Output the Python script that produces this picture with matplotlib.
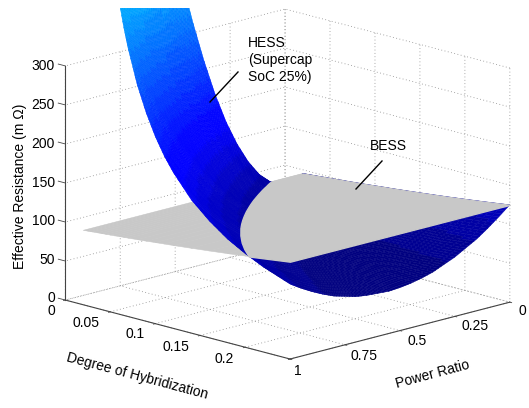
"""Effective resistance of HESS vs BESS against hybridization and power ratio."""
import matplotlib
matplotlib.use("Agg")
import matplotlib.pyplot as plt
import numpy as np
from matplotlib.colors import Normalize
from matplotlib.lines import Line2D
from matplotlib.transforms import Bbox, TransformedBbox
from mpl_toolkits.mplot3d.art3d import Poly3DCollection

W, H = 529, 408

doh = [0.02, 0.0225, 0.025, 0.0275, 0.03, 0.035, 0.04, 0.045, 0.05, 0.055, 0.06, 0.065, 0.07, 0.08, 0.09,
       0.10, 0.11, 0.12, 0.14, 0.16, 0.18, 0.20, 0.22, 0.25]
power = [0.0, 0.05, 0.1, 0.15, 0.2, 0.25, 0.3, 0.35, 0.4, 0.45, 0.5, 0.55, 0.6, 0.65, 0.7, 0.75, 0.8, 0.85, 0.9, 0.95, 1.0]

# HESS resistance, one row per doh value. Estimates: only the sheet's edges can be read off
# the picture, the inside comes from a curve fitted by hand to those readings.
hess = [
    [95.4, 89, 89, 96, 109, 129, 155, 187, 226, 272, 324, 382, 447, 519, 597, 681, 772, 869, 973, 1083, 1200],
    [95.7, 89, 88, 93, 104, 120, 143, 171, 205, 245, 291, 342, 399, 462, 531, 606, 686, 773, 865, 963, 1067],
    [95.9, 89, 87, 91, 100, 114, 133, 158, 188, 223, 264, 310, 361, 417, 479, 546, 618, 696, 779, 867, 960],
    [96.1, 89, 87, 89, 96, 109, 126, 148, 174, 206, 242, 283, 330, 381, 436, 497, 562, 633, 708, 788, 873],
    [96.4, 89, 86, 88, 94, 104, 119, 139, 163, 191, 224, 262, 303, 350, 401, 456, 516, 580, 649, 722, 800],
    [96.9, 89, 85, 85, 89, 97, 109, 125, 145, 168, 196, 227, 262, 302, 345, 392, 443, 498, 556, 619, 686],
    [97.4, 89, 85, 84, 86, 92, 102, 115, 131, 151, 174, 201, 232, 265, 303, 344, 388, 436, 487, 542, 600],
    [97.9, 90, 85, 83, 84, 88, 96, 107, 121, 138, 158, 181, 208, 237, 270, 306, 345, 388, 433, 482, 533],
    [98.4, 90, 85, 82, 82, 85, 91, 100, 112, 127, 145, 165, 189, 215, 244, 276, 311, 349, 390, 433, 480],
    [98.9, 90, 85, 81, 81, 83, 88, 95, 105, 118, 134, 152, 173, 196, 223, 252, 283, 317, 354, 394, 436],
    [99.5, 91, 85, 81, 80, 81, 85, 91, 100, 111, 125, 141, 160, 181, 205, 231, 260, 291, 325, 361, 400],
    [100.0, 91, 85, 81, 79, 79, 82, 87, 95, 105, 117, 132, 149, 168, 190, 214, 240, 269, 300, 333, 369],
    [100.5, 92, 85, 80, 78, 78, 80, 84, 91, 100, 111, 124, 140, 157, 177, 199, 223, 250, 279, 310, 343],
    [101.6, 92, 85, 80, 77, 76, 77, 80, 85, 91, 100, 111, 124, 139, 156, 175, 196, 219, 244, 271, 300],
    [102.7, 93, 86, 80, 76, 74, 74, 76, 80, 85, 92, 101, 112, 125, 140, 156, 175, 195, 217, 241, 267],
    [103.9, 94, 87, 80, 76, 73, 73, 73, 76, 80, 86, 94, 103, 114, 127, 141, 158, 176, 195, 217, 240],
    [105.1, 95, 87, 81, 76, 73, 71, 71, 73, 76, 81, 87, 95, 105, 116, 129, 144, 160, 178, 197, 218],
    [106.2, 96, 88, 81, 76, 72, 70, 69, 70, 73, 77, 82, 89, 98, 108, 119, 132, 147, 163, 181, 200],
    [108.7, 99, 90, 82, 76, 72, 69, 67, 67, 68, 70, 74, 79, 86, 94, 103, 114, 126, 140, 155, 171],
    [111.3, 101, 92, 84, 77, 72, 68, 65, 64, 64, 65, 68, 72, 77, 84, 91, 100, 111, 123, 136, 150],
    [114.0, 103, 94, 85, 78, 72, 68, 65, 62, 61, 62, 63, 66, 70, 76, 82, 90, 99, 109, 121, 133],
    [116.9, 106, 96, 87, 80, 73, 68, 64, 61, 60, 59, 60, 62, 65, 69, 75, 81, 89, 98, 109, 120],
    [119.9, 108, 98, 89, 81, 74, 69, 64, 61, 58, 57, 57, 58, 61, 64, 69, 75, 82, 90, 99, 109],
    [124.7, 113, 102, 92, 84, 76, 70, 64, 60, 57, 55, 54, 55, 56, 58, 62, 66, 72, 79, 87, 96],
]

# BESS plane, flat along the power ratio
bess = [95.4, 95.7, 95.9, 96.1, 96.4, 96.9, 97.4, 97.9, 98.4, 98.9, 99.5, 100.0, 100.5, 101.6, 102.7,
        103.9, 105.1, 106.2, 108.7, 111.3, 114.0, 116.9, 119.9, 124.7]

# where HESS comes up through the BESS plane
cross_doh = [0.02, 0.0225, 0.025, 0.0275, 0.03, 0.035, 0.04, 0.045, 0.05, 0.055, 0.06, 0.065, 0.07, 0.08, 0.09,
             0.10, 0.11, 0.12, 0.14, 0.16, 0.18, 0.20, 0.204]
cross_power = [0.147, 0.165, 0.182, 0.198, 0.215, 0.248, 0.279, 0.310, 0.340, 0.370, 0.398, 0.426, 0.453, 0.506, 0.556,
               0.604, 0.650, 0.694, 0.776, 0.852, 0.922, 0.987, 1.0]
cross_res = [95.4, 95.7, 95.9, 96.1, 96.4, 96.9, 97.4, 97.9, 98.4, 98.9, 99.5, 100.0, 100.5, 101.6, 102.7,
             103.9, 105.1, 106.2, 108.7, 111.3, 114.0, 116.9, 117.5]

doh_ticks = [0, 0.05, 0.1, 0.15, 0.2, 0.25]
doh_labels = ["0", "0.05", "0.1", "0.15", "0.2"]
power_ticks = [0, 0.25, 0.5, 0.75, 1]
power_labels = ["1", "0.75", "0.5", "0.25", "0"]
res_ticks = [0, 50, 100, 150, 200, 250, 300]

plt.rcParams["font.family"] = ["Liberation Sans", "DejaVu Sans"]
plt.rcParams["font.size"] = 10
plt.rcParams["grid.color"] = "#8c8c8c"
plt.rcParams["grid.linewidth"] = 0.6
plt.rcParams["grid.linestyle"] = (0, (1, 3))
plt.rcParams["xtick.color"] = "#444444"
plt.rcParams["ytick.color"] = "#444444"

fig = plt.figure(figsize=(W / 100, H / 100), dpi=100)
S = 560
ax = fig.add_axes([0, -63.6 / H, S / W, S / H], projection="3d", proj_type="ortho", computed_zorder=False)
ax.patch.set_alpha(0)
ax.view_init(elev=15.1, azim=-44.8)
ax.set_box_aspect((1.03, 1, 0.783), zoom=0.878)


def shade_steps(values, n=4):
    """Split each table step into n, so a cell can be shaded across instead of one flat colour."""
    return np.interp(np.linspace(0, len(values) - 1, (len(values) - 1) * n + 1), np.arange(len(values)), values)


GRAY = "#c8c8c8"
AXIS = "#444444"

# mplot3d puts the z axis on the right here, the picture has it on the left corner
ax.plot([0, 0], [1, 1], [0, 300], color=AXIS, linewidth=0.8, zorder=0)
for r in res_ticks:
    ax.plot([-0.0078, 0], [1, 1], [r, r], color=AXIS, linewidth=0.6, zorder=0)

# whole BESS plane goes first, behind the HESS sheet
Xg, Yg = np.meshgrid(doh, [0.0, 1.0], indexing="ij")
Zg = np.column_stack([bess, bess])
under = ax.plot_surface(Xg, Yg, Zg, color=GRAY, shade=False, linewidth=0.4, edgecolor=GRAY,
                        rcount=50, ccount=2, zorder=1)

# interpolated shading of the table through a 64 level jet
Zrows = np.array([shade_steps(col) for col in np.array(hess, dtype=float).T]).T
Z = np.array([shade_steps(row) for row in Zrows])
X, Y = np.meshgrid(shade_steps(doh), shade_steps(power), indexing="ij")
cells = (Z[:-1, :-1] + Z[1:, :-1] + Z[:-1, 1:] + Z[1:, 1:]) / 4
colors = plt.get_cmap("jet", 64)(Normalize(54.0, 1200.0)(cells))
sheet = ax.plot_surface(X, Y, Z, facecolors=colors, shade=False, linewidth=0.3,
                        rcount=Z.shape[0], ccount=Z.shape[1], zorder=2)

# part of the BESS plane that lies above the HESS sheet
verts = list(zip(cross_doh, cross_power, cross_res))
verts.append((doh[-1], 1.0, bess[-1]))
verts.extend((d, 0.0, b) for d, b in zip(doh[::-1], bess[::-1]))
over = Poly3DCollection([verts], facecolor=GRAY, edgecolor=GRAY, linewidth=1.0, zorder=3)
ax.add_collection3d(over)

# the sheet runs out of the picture at the top
top = TransformedBbox(Bbox([[0, 0], [1, 1 - 8 / H]]), fig.transFigure)
sheet.set_clip_path(None)
sheet.set_clip_box(top)

ax.set_xlim(0, 0.25, view_margin=0)
ax.set_ylim(1, 0, view_margin=0)
ax.set_zlim(0, 300, view_margin=0)
ax.set_xticks(doh_ticks, [""] * len(doh_ticks))
ax.set_yticks(power_ticks, [""] * len(power_ticks))
ax.set_zticks(res_ticks, [""] * len(res_ticks))

for axis in (ax.xaxis, ax.yaxis, ax.zaxis):
    axis.pane.set_facecolor("white")
    axis.pane.set_edgecolor("none")
    axis.line.set_color(AXIS)
    axis.line.set_linewidth(0.8)
    axis._axinfo["tick"]["linewidth"] = {True: 0.6, False: 0.4}
for axis in (ax.xaxis, ax.yaxis):
    axis._axinfo["tick"]["inward_factor"] = 0.1
    axis._axinfo["tick"]["outward_factor"] = 0.0
ax.zaxis.line.set_color("none")
ax.zaxis._axinfo["tick"]["inward_factor"] = 0.0
ax.zaxis._axinfo["tick"]["outward_factor"] = 0.0


def put(x, y, s, **kw):
    fig.text(x / W, 1 - y / H, s, ha=kw.pop("ha", "center"), va=kw.pop("va", "center"), **kw)


# tick labels sit a little off the mplot3d spots, so they are placed by pixel
for s, (x, y) in zip(doh_labels, [(51, 311), (86, 323), (135, 334), (176, 347), (224, 359)]):
    put(x, y, s)
for s, (x, y) in zip(power_labels, [(298, 371), (364, 356), (417, 341), (475, 326), (522, 311)]):
    put(x, y, s)
for r, y in zip(res_ticks, [298, 260, 221, 183, 144, 105, 66]):
    put(55, y, str(r), ha="right")

put(20, 186, "Effective Resistance (m Ω)", rotation=90)
put(137, 376, "Degree of Hybridization", rotation=-15)
put(433, 374, "Power Ratio", rotation=15)

put(248, 60, "HESS\n(Supercap\nSoC 25%)", ha="left", linespacing=1.25)
put(388, 146, "BESS")
fig.add_artist(Line2D([238 / W, 210 / W], [1 - 72 / H, 1 - 102 / H], color="black", linewidth=1))
fig.add_artist(Line2D([382 / W, 356 / W], [1 - 161 / H, 1 - 189 / H], color="black", linewidth=1))

fig.savefig("out.png", dpi=100)
plt.close(fig)
